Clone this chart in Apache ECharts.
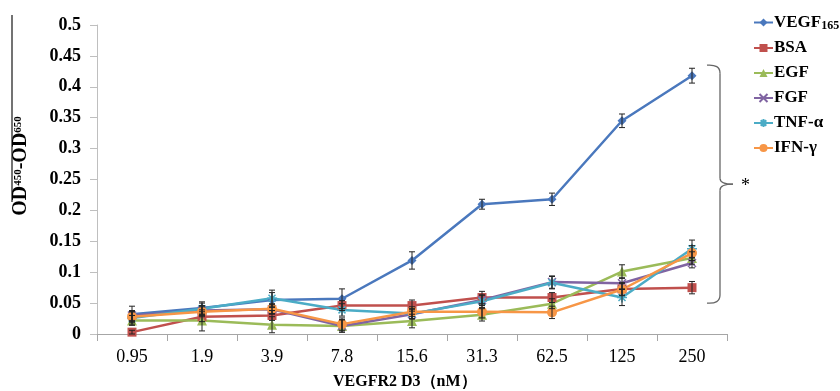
<!DOCTYPE html>
<html>
<head>
<meta charset="utf-8">
<script src="https://cdn.jsdelivr.net/npm/echarts@6/dist/echarts.min.js"></script>
<style>
html,body{margin:0;padding:0;background:#fff;}
#c{width:840px;height:391px;}
</style>
</head>
<body>
<div id="c"></div>
<script>
var categories = ['0.95','1.9','3.9','7.8','15.6','31.3','62.5','125','250'];
var yTicks = {min: 0, max: 0.5, interval: 0.05};

var vegf    = [0.032,0.042,0.055,0.057,0.119,0.210,0.218,0.345,0.418];
var vegfErr = [0.013,0.010,0.012,0.016,0.014,0.008,0.010,0.011,0.012];
var bsa     = [0.003,0.028,0.030,0.046,0.046,0.059,0.059,0.073,0.075];
var bsaErr  = [0.003,0.008,0.008,0.008,0.009,0.010,0.008,0.010,0.010];
var egf     = [0.022,0.022,0.015,0.013,0.021,0.031,0.049,0.101,0.123];
var egfErr  = [0.008,0.017,0.013,0.010,0.011,0.010,0.008,0.011,0.010];
var fgf     = [0.030,0.038,0.040,0.013,0.032,0.055,0.084,0.082,0.115];
var fgfErr  = [0.008,0.008,0.008,0.010,0.008,0.008,0.010,0.009,0.008];
var tnf     = [0.026,0.041,0.058,0.039,0.033,0.053,0.083,0.059,0.138];
var tnfErr  = [0.010,0.009,0.013,0.010,0.008,0.010,0.010,0.013,0.014];
var ifn     = [0.028,0.036,0.041,0.016,0.036,0.036,0.035,0.072,0.131];
var ifnErr  = [0.008,0.008,0.008,0.010,0.008,0.010,0.010,0.010,0.012];

var seriesNames = ['VEGF165','BSA','EGF','FGF','TNF-α','IFN-γ'];
var bracketRange = [0.05, 0.435];

var serif = '"Liberation Serif","DejaVu Serif","Times New Roman",serif';
var colors = ['#4a78bd','#c0504d','#9bbb59','#8064a2','#4bacc6','#f79646'];
var symbols = [
  'diamond','rect','triangle',
  'path://M0,0L10,10M10,0L0,10',
  'path://M5,0L5,10M0,5L10,5M1.5,1.5L8.5,8.5M8.5,1.5L1.5,8.5',
  'circle'
];
var sizes = [9,9,10,8,10,10];
var values = [vegf,bsa,egf,fgf,tnf,ifn];
var errs = [vegfErr,bsaErr,egfErr,fgfErr,tnfErr,ifnErr];

var chart = echarts.init(document.getElementById('c'));

var series = seriesNames.map(function(n, k){
  return {
    name: n, type: 'line', data: values[k],
    symbol: symbols[k], symbolSize: sizes[k],
    lineStyle: {color: colors[k], width: 2.5},
    itemStyle: {color: colors[k], borderColor: colors[k], borderWidth: (k===3||k===4)?1.5:0},
    z: 3, animation: false
  };
});

var errData = [];
values.forEach(function(v, k){
  v.forEach(function(val, i){
    errData.push([i, val - errs[k][i], val + errs[k][i]]);
  });
});

series.push({
  type: 'custom', name: 'err', z: 5, animation: false, silent: true,
  data: errData,
  renderItem: function(params, api){
    var lo = api.coord([api.value(0), api.value(1)]);
    var hi = api.coord([api.value(0), api.value(2)]);
    var w = 3;
    var st = {stroke: '#222', lineWidth: 1};
    return {type: 'group', children: [
      {type: 'line', shape: {x1: lo[0], y1: lo[1], x2: hi[0], y2: hi[1]}, style: st},
      {type: 'line', shape: {x1: lo[0]-w, y1: lo[1], x2: lo[0]+w, y2: lo[1]}, style: st},
      {type: 'line', shape: {x1: hi[0]-w, y1: hi[1], x2: hi[0]+w, y2: hi[1]}, style: st}
    ]};
  }
});

chart.setOption({
  backgroundColor: '#fff',
  animation: false,
  grid: {left: 97, right: 113, top: 25, bottom: 57},
  legend: {
    orient: 'vertical', left: 753, top: 14, padding: 0,
    data: seriesNames,
    itemWidth: 19, itemHeight: 10, itemGap: 8,
    selectedMode: false,
    formatter: function(n){
      return n === 'VEGF165' ? '{a|VEGF}{s|165}' : '{a|' + n + '}';
    },
    textStyle: {
      fontFamily: serif, fontWeight: 'bold', fontSize: 17, color: '#000', padding: [0,0,0,-4],
      rich: {
        a: {fontFamily: serif, fontWeight: 'bold', fontSize: 17, color: '#000', lineHeight: 18},
        s: {fontFamily: serif, fontWeight: 'bold', fontSize: 12, color: '#000', lineHeight: 18, verticalAlign: 'bottom'}
      }
    }
  },
  xAxis: {
    type: 'category', data: categories, boundaryGap: true,
    axisLine: {lineStyle: {color: '#a6a6a6', width: 1}},
    axisTick: {show: true, length: 7, lineStyle: {color: '#a6a6a6'}},
    axisLabel: {fontFamily: serif, fontSize: 18, color: '#000', margin: 14}
  },
  yAxis: {
    type: 'value', min: yTicks.min, max: yTicks.max, interval: yTicks.interval,
    splitLine: {show: false},
    axisLine: {show: true, lineStyle: {color: '#bfbfbf', width: 1}},
    axisTick: {show: true, length: 7, lineStyle: {color: '#bfbfbf'}},
    axisLabel: {fontFamily: serif, fontWeight: 'bold', fontSize: 18, color: '#000', margin: 16}
  },
  series: series
});

function drawAnnotations(){
  var top = chart.convertToPixel({yAxisIndex: 0}, bracketRange[1]);
  var bot = chart.convertToPixel({yAxisIndex: 0}, bracketRange[0]);
  var mid = (top + bot) / 2;
  var bx = 720, bl = 707;
  var st = {stroke: '#666', lineWidth: 1.3, fill: 'none'};
  chart.setOption({
    graphic: [
      {type: 'line', silent: true, shape: {x1: 12, y1: 15, x2: 12, y2: 202}, style: {stroke: '#444', lineWidth: 1.5}},
      {type: 'text', silent: true, x: 21, y: 166, rotation: Math.PI/2, style: {
        text: '{b|OD}{s|450}{b|-OD}{s|650}',
        align: 'center', verticalAlign: 'middle',
        rich: {
          b: {fontFamily: serif, fontWeight: 'bold', fontSize: 20, fill: '#000', lineHeight: 20},
          s: {fontFamily: serif, fontWeight: 'bold', fontSize: 11, fill: '#000', lineHeight: 12, verticalAlign: 'middle', padding: [0,0,5,0]}
        }
      }},
      {type: 'bezierCurve', silent: true, shape: {x1: bl, y1: top, cpx1: bx, cpy1: top - 1, x2: bx, y2: top + 8}, style: st},
      {type: 'line', silent: true, shape: {x1: bx, y1: top + 8, x2: bx, y2: mid - 6}, style: st},
      {type: 'bezierCurve', silent: true, shape: {x1: bx, y1: mid - 6, cpx1: bx, cpy1: mid, x2: bx + 13, y2: mid}, style: st},
      {type: 'bezierCurve', silent: true, shape: {x1: bx + 13, y1: mid, cpx1: bx, cpy1: mid, x2: bx, y2: mid + 6}, style: st},
      {type: 'line', silent: true, shape: {x1: bx, y1: mid + 6, x2: bx, y2: bot - 8}, style: st},
      {type: 'bezierCurve', silent: true, shape: {x1: bx, y1: bot - 8, cpx1: bx, cpy1: bot + 1, x2: bl, y2: bot}, style: st},
      {type: 'text', silent: true, x: 741, y: mid - 7, style: {text: '*', fontFamily: serif, fontSize: 18, fill: '#000'}},
      {type: 'text', silent: true, x: 333, y: 374, style: {text: 'VEGFR2 D3（nM）', fontFamily: serif, fontWeight: 'bold', fontSize: 16, fill: '#000'}}
    ]
  });
}
drawAnnotations();
</script>
</body>
</html>
